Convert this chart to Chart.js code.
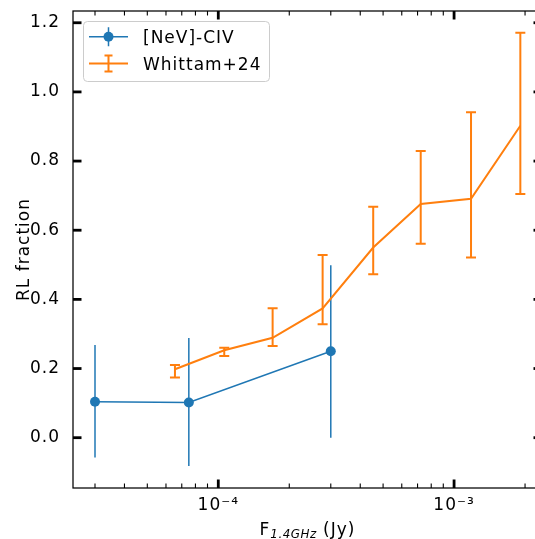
<!DOCTYPE html>
<html>
<head>
<meta charset="utf-8">
<script src="https://cdn.jsdelivr.net/npm/chart.js@4.4.1/dist/chart.umd.min.js"></script>
<style>
  html, body { margin: 0; padding: 0; background: #fff; }
  #wrap { width: 535px; height: 539px; overflow: hidden; }
</style>
</head>
<body>
<div id="wrap"><canvas id="rlChart" width="550" height="539"></canvas></div>
<script>
// [NeV]-CIV sample: flux (Jy), RL fraction and error range
const nevFlux = [3.0e-5, 7.5e-5, 3.0e-4];
const nevFrac = [0.104, 0.102, 0.250];
const nevLow  = [-0.057, -0.082, 0.000];
const nevHigh = [0.268, 0.288, 0.499];

// Whittam+24 comparison
const whitFlux = [6.55e-5, 1.06e-4, 1.70e-4, 2.77e-4, 4.54e-4, 7.22e-4, 1.18e-3, 1.91e-3];
const whitFrac = [0.198, 0.253, 0.289, 0.374, 0.550, 0.676, 0.691, 0.902];
const whitLow  = [0.174, 0.236, 0.265, 0.328, 0.473, 0.561, 0.521, 0.705];
const whitHigh = [0.210, 0.260, 0.374, 0.528, 0.668, 0.829, 0.941, 1.171];

// axis ticks
const xMajorTicks = [1e-4, 1e-3];
const xMajorLabels = ['10⁻⁴', '10⁻³'];
const xMinorTicks = [3e-5, 4e-5, 5e-5, 6e-5, 7e-5, 8e-5, 9e-5,
                     2e-4, 3e-4, 4e-4, 5e-4, 6e-4, 7e-4, 8e-4, 9e-4, 2e-3];
const yTicks = [0.0, 0.2, 0.4, 0.6, 0.8, 1.0, 1.2];

const BLUE = '#1f77b4';
const ORANGE = '#ff7f0e';
const FONT = 'DejaVu Sans';
const FS = 17;
const SPACING = '1px';

Chart.defaults.font.family = FONT;
Chart.defaults.font.size = FS;
Chart.defaults.color = '#000';

function toPoints(xs, ys) {
    return xs.map((x, i) => ({ x: x, y: ys[i] }));
}

// slightly looser text for tick labels
const textSpacing = {
    id: 'textSpacing',
    beforeDraw(chart) {
        chart.ctx.letterSpacing = SPACING;
    }
};

// vertical error bars, drawn under each line
const errorBars = {
    id: 'errorBars',
    beforeDatasetDraw(chart, args) {
        const ds = chart.data.datasets[args.index];
        if (!ds.yLow) return;
        const xs = chart.scales.x, ys = chart.scales.y;
        const ctx = chart.ctx;
        ctx.save();
        ctx.strokeStyle = ds.borderColor;
        ctx.lineWidth = ds.errWidth;
        ds.data.forEach((p, i) => {
            const px = xs.getPixelForValue(p.x);
            const top = ys.getPixelForValue(ds.yHigh[i]);
            const bot = ys.getPixelForValue(ds.yLow[i]);
            ctx.beginPath();
            ctx.moveTo(px, top);
            ctx.lineTo(px, bot);
            if (ds.capHalf) {
                ctx.moveTo(px - ds.capHalf, top); ctx.lineTo(px + ds.capHalf, top);
                ctx.moveTo(px - ds.capHalf, bot); ctx.lineTo(px + ds.capHalf, bot);
            }
            ctx.stroke();
        });
        ctx.restore();
    }
};

// box, inward ticks on all sides, axis titles and legend
const frame = {
    id: 'frame',
    afterDraw(chart) {
        const ctx = chart.ctx;
        const a = chart.chartArea;
        const xs = chart.scales.x, ys = chart.scales.y;
        ctx.save();
        ctx.letterSpacing = SPACING;

        ctx.strokeStyle = '#000';
        ctx.lineWidth = 1.25;
        ctx.strokeRect(a.left, a.top, a.right - a.left, a.bottom - a.top);

        const tick = (x1, y1, x2, y2, w) => {
            ctx.lineWidth = w;
            ctx.beginPath(); ctx.moveTo(x1, y1); ctx.lineTo(x2, y2); ctx.stroke();
        };
        xs.ticks.forEach(t => {
            const major = xMajorTicks.includes(t.value);
            const len = major ? 8.5 : 4.5, w = major ? 2.8 : 1.1;
            const px = xs.getPixelForValue(t.value);
            tick(px, a.bottom, px, a.bottom - len, w);
            tick(px, a.top, px, a.top + len, w);
        });
        ys.ticks.forEach(t => {
            const py = ys.getPixelForValue(t.value);
            tick(a.left, py, a.left + 8.5, py, 2.8);
            tick(a.right, py, a.right - 8.5, py, 2.8);
        });

        // y title
        ctx.fillStyle = '#000';
        ctx.font = FS + 'px "' + FONT + '"';
        ctx.save();
        ctx.translate(28.5, (a.top + a.bottom) / 2);
        ctx.rotate(-Math.PI / 2);
        ctx.textAlign = 'center';
        ctx.textBaseline = 'alphabetic';
        ctx.fillText('RL fraction', 0, 0);
        ctx.restore();

        // x title: F with italic subscript
        const bigFont = FS + 'px "' + FONT + '"';
        const subFont = 'italic ' + (FS * 0.7).toFixed(1) + 'px "' + FONT + '"';
        ctx.font = bigFont;
        const wF = ctx.measureText('F').width;
        const wTail = ctx.measureText(' (Jy)').width;
        ctx.font = subFont;
        ctx.letterSpacing = '0.5px';
        const wSub = ctx.measureText('1.4GHz').width;
        ctx.letterSpacing = SPACING;
        const total = wF + wSub + wTail;
        let tx = (a.left + a.right) / 2 - total / 2;
        const base = 534.5;
        ctx.textAlign = 'left';
        ctx.textBaseline = 'alphabetic';
        ctx.font = bigFont;
        ctx.fillText('F', tx, base);
        tx += wF;
        ctx.font = subFont;
        ctx.letterSpacing = '0.5px';
        ctx.fillText('1.4GHz', tx, base + 3);
        ctx.letterSpacing = SPACING;
        tx += wSub;
        ctx.font = bigFont;
        ctx.fillText(' (Jy)', tx, base);

        // legend
        const lx = 83, ly = 21, lw = 186, lh = 60;
        ctx.fillStyle = 'rgba(255,255,255,0.8)';
        ctx.strokeStyle = '#cccccc';
        ctx.lineWidth = 1;
        ctx.beginPath();
        ctx.roundRect(lx + 0.5, ly + 0.5, lw, lh, 4);
        ctx.fill();
        ctx.stroke();

        const hx1 = 89, hx2 = 128, hc = 108.5;
        // [NeV]-CIV handle
        let hy = 36.7;
        ctx.strokeStyle = BLUE;
        ctx.lineWidth = 1.5;
        ctx.beginPath();
        ctx.moveTo(hx1, hy); ctx.lineTo(hx2, hy);
        ctx.moveTo(hc, hy - 9.5); ctx.lineTo(hc, hy + 9.5);
        ctx.stroke();
        ctx.fillStyle = BLUE;
        ctx.beginPath(); ctx.arc(hc, hy, 5, 0, Math.PI * 2); ctx.fill();
        // Whittam+24 handle
        hy = 63.5;
        ctx.strokeStyle = ORANGE;
        ctx.lineWidth = 2;
        ctx.beginPath();
        ctx.moveTo(hx1, hy); ctx.lineTo(hx2, hy);
        ctx.moveTo(hc, hy - 8); ctx.lineTo(hc, hy + 8);
        ctx.moveTo(hc - 4, hy - 8); ctx.lineTo(hc + 4, hy - 8);
        ctx.moveTo(hc - 4, hy + 8); ctx.lineTo(hc + 4, hy + 8);
        ctx.stroke();

        ctx.fillStyle = '#000';
        ctx.font = bigFont;
        ctx.fillText('[NeV]-CIV', 143, 42.8);
        ctx.fillText('Whittam+24', 143, 69.6);

        ctx.restore();
    }
};

function zeroPadding(scale) {
    scale.paddingTop = 0;
    scale.paddingBottom = 0;
    scale.paddingLeft = 0;
    scale.paddingRight = 0;
}

new Chart(document.getElementById('rlChart'), {
    type: 'scatter',
    data: {
        datasets: [{
            label: '[NeV]-CIV',
            data: toPoints(nevFlux, nevFrac),
            yLow: nevLow,
            yHigh: nevHigh,
            errWidth: 1.5,
            capHalf: 0,
            showLine: true,
            borderColor: BLUE,
            backgroundColor: BLUE,
            borderWidth: 1.5,
            pointRadius: 5,
            pointBorderWidth: 0,
            order: 2
        }, {
            label: 'Whittam+24',
            data: toPoints(whitFlux, whitFrac),
            yLow: whitLow,
            yHigh: whitHigh,
            errWidth: 2,
            capHalf: 5,
            showLine: true,
            borderColor: ORANGE,
            backgroundColor: ORANGE,
            borderWidth: 2,
            pointRadius: 0,
            order: 1
        }]
    },
    options: {
        responsive: false,
        animation: false,
        events: [],
        layout: { padding: { left: 0, top: 11, right: 8, bottom: 0 } },
        scales: {
            x: {
                type: 'logarithmic',
                position: 'bottom',
                min: 2.42e-5,
                max: 2.36e-3,
                bounds: 'data',
                grid: { display: false },
                border: { display: false },
                afterBuildTicks(scale) {
                    scale.ticks = xMinorTicks.concat(xMajorTicks)
                        .sort((p, q) => p - q)
                        .map(v => ({ value: v }));
                },
                afterFit(scale) {
                    scale.height = 51;
                    zeroPadding(scale);
                },
                ticks: {
                    autoSkip: false,
                    maxRotation: 0,
                    padding: -1,
                    color: '#000',
                    callback(value) {
                        const i = xMajorTicks.indexOf(value);
                        return i >= 0 ? xMajorLabels[i] : '';
                    }
                }
            },
            y: {
                type: 'linear',
                position: 'left',
                min: -0.1455,
                max: 1.234,
                bounds: 'data',
                grid: { display: false },
                border: { display: false },
                afterBuildTicks(scale) {
                    scale.ticks = yTicks.map(v => ({ value: v }));
                },
                afterFit(scale) {
                    scale.width = 73;
                    zeroPadding(scale);
                },
                ticks: {
                    padding: 5,
                    color: '#000',
                    callback(value) { return value.toFixed(1); }
                }
            }
        },
        plugins: {
            legend: { display: false },
            tooltip: { enabled: false }
        }
    },
    plugins: [textSpacing, errorBars, frame]
});
</script>
</body>
</html>
